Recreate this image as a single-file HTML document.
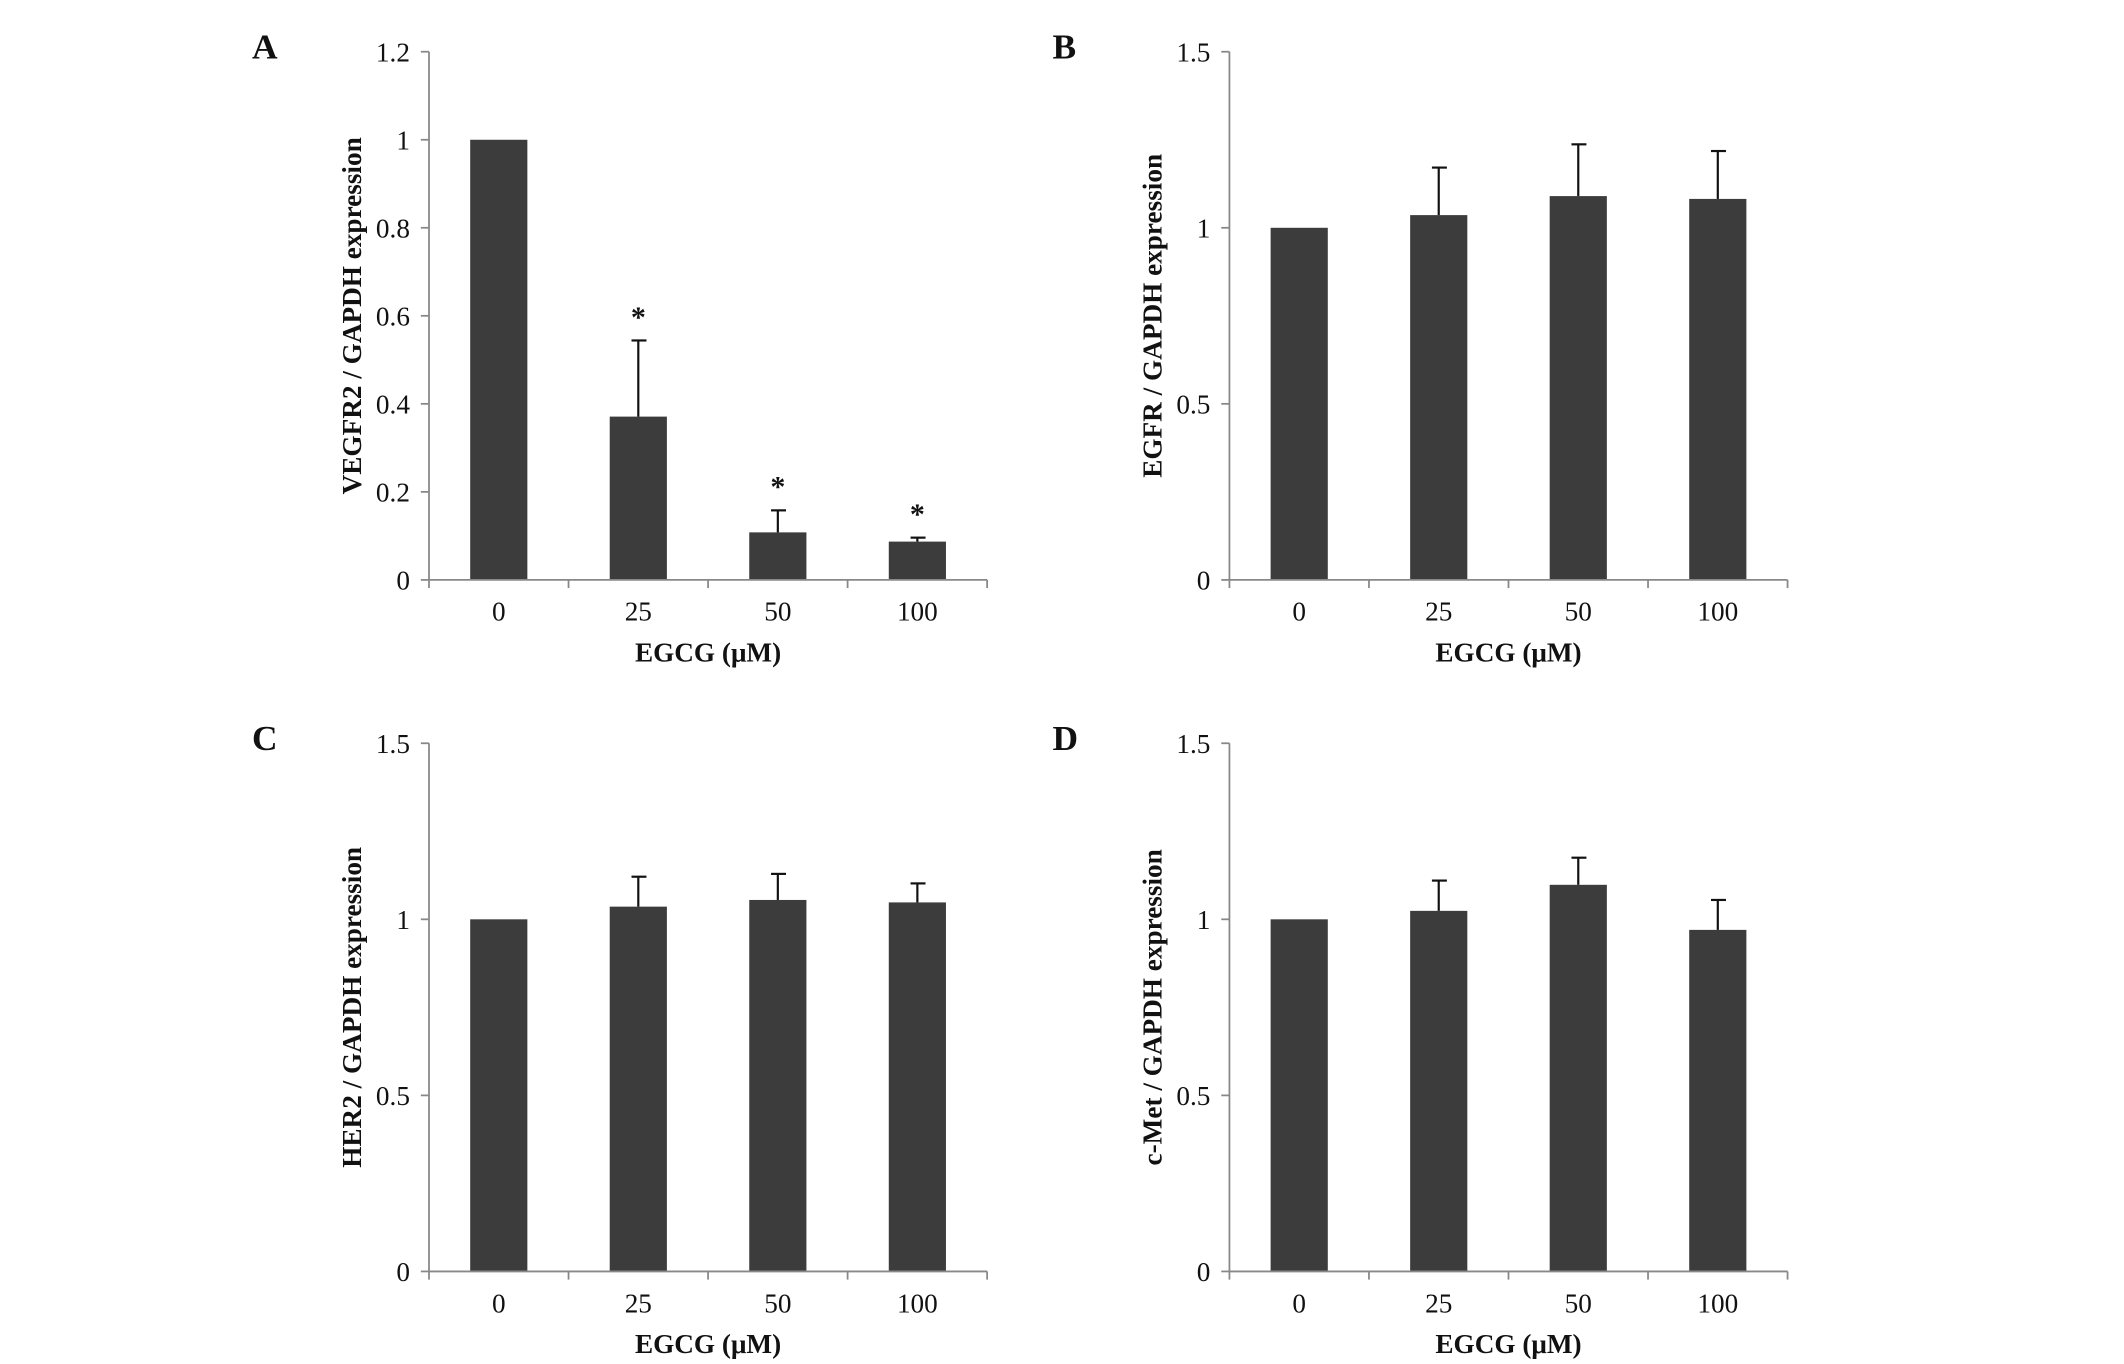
<!DOCTYPE html>
<html><head><meta charset="utf-8"><style>
html,body{margin:0;padding:0;background:#fff;}
svg{display:block;}
text{font-family:"Liberation Serif",serif;fill:#111;}
</style></head><body>
<svg id="fig" width="2124" height="1364" viewBox="0 0 1560 1002" xmlns="http://www.w3.org/2000/svg"></svg>
<script>
const categories = ["0","25","50","100"];
const valuesA = [1, 0.371, 0.108, 0.087];
const errorsA = [0, 0.173, 0.050, 0.009];
const starsA = [false, true, true, true];
const valuesB = [1, 1.036, 1.09, 1.082];
const errorsB = [0, 0.135, 0.147, 0.136];
const valuesC = [1, 1.036, 1.055, 1.048];
const errorsC = [0, 0.085, 0.074, 0.054];
const valuesD = [1, 1.024, 1.098, 0.970];
const errorsD = [0, 0.086, 0.077, 0.085];
const ticksA = [0,0.2,0.4,0.6,0.8,1,1.2];
const tickLabelsA = ["0","0.2","0.4","0.6","0.8","1","1.2"];
const ticksB = [0,0.5,1,1.5];
const tickLabelsB = ["0","0.5","1","1.5"];

const NS="http://www.w3.org/2000/svg";
const svg=document.getElementById('fig');
function mk(tag,attrs,parent,txt){const e=document.createElementNS(NS,tag);for(const k in attrs)e.setAttribute(k,attrs[k]);if(txt!==undefined)e.textContent=txt;parent.appendChild(e);return e;}

function panel(id,letter,ox,oy,ymax,ticks,tlabels,vals,errs,stars,ytitle){
  const g=mk('g',{},svg);
  
  
  const x0=ox,x1=ox+410,yb=oy+388,yt=oy;
  const ys=v=>yb-(v/ymax)*(yb-yt);
  const bw=(x1-x0)/categories.length;
  const xc=i=>x0+bw*(i+0.5);
  const L=mk('text',{x:ox-130,y:oy+5,'font-size':26,'font-weight':'bold'},g,letter);
  
  
  vals.forEach((v,i)=>{
    const r=mk('rect',{x:xc(i)-21,y:ys(v),width:42,height:yb-ys(v),fill:'#3c3c3c'},g);
    
    
    const e=errs[i];
    if(e>0){
      const eg=mk('g',{stroke:'#111','stroke-width':1.6},g);
      
      
      mk('line',{x1:xc(i),x2:xc(i),y1:ys(v),y2:ys(v+e)},eg);
      mk('line',{x1:xc(i)-5,x2:xc(i)+6,y1:ys(v+e),y2:ys(v+e)},eg);
    }
    if(stars&&stars[i]){
      const s=mk('text',{x:xc(i),y:ys(v+e)-10,'font-size':22,'font-weight':'bold','text-anchor':'middle'},g,'*');
      
      
    }
  });
  const ax=mk('g',{stroke:'#888','stroke-width':1.3},g);
  
  
  mk('line',{x1:x0,x2:x0,y1:yt,y2:yb},ax);
  mk('line',{x1:x0,x2:x1,y1:yb,y2:yb},ax);
  ticks.forEach(t=>mk('line',{x1:x0-6,x2:x0,y1:ys(t),y2:ys(t)},ax));
  for(let i=0;i<=categories.length;i++)mk('line',{x1:x0+bw*i,x2:x0+bw*i,y1:yb,y2:yb+6},ax);
  ticks.forEach((t,i)=>{
    const tx=mk('text',{x:x0-14,y:ys(t)+7,'font-size':20,'text-anchor':'end'},g,tlabels[i]);
    
    
  });
  categories.forEach((c,i)=>{
    const tx=mk('text',{x:xc(i),y:yb+30,'font-size':20,'text-anchor':'middle'},g,c);
    
    
  });
  const xt=mk('text',{x:(x0+x1)/2,y:yb+60,'font-size':20,'font-weight':'bold','text-anchor':'middle'},g,'EGCG (μM)');
  
  
  const cy=(yt+yb)/2;
  const yt2=mk('text',{x:ox-50,y:cy,'font-size':20,'font-weight':'bold','text-anchor':'middle',transform:`rotate(-90 ${ox-50} ${cy})`},g,ytitle);
  
  
}
panel('a','A',315,38,1.2,ticksA,tickLabelsA,valuesA,errorsA,starsA,'VEGFR2 / GAPDH expression');
panel('b','B',903,38,1.5,ticksB,tickLabelsB,valuesB,errorsB,null,'EGFR / GAPDH expression');
panel('c','C',315,546,1.5,ticksB,tickLabelsB,valuesC,errorsC,null,'HER2 / GAPDH expression');
panel('d','D',903,546,1.5,ticksB,tickLabelsB,valuesD,errorsD,null,'c-Met / GAPDH expression');
</script>
</body></html>
